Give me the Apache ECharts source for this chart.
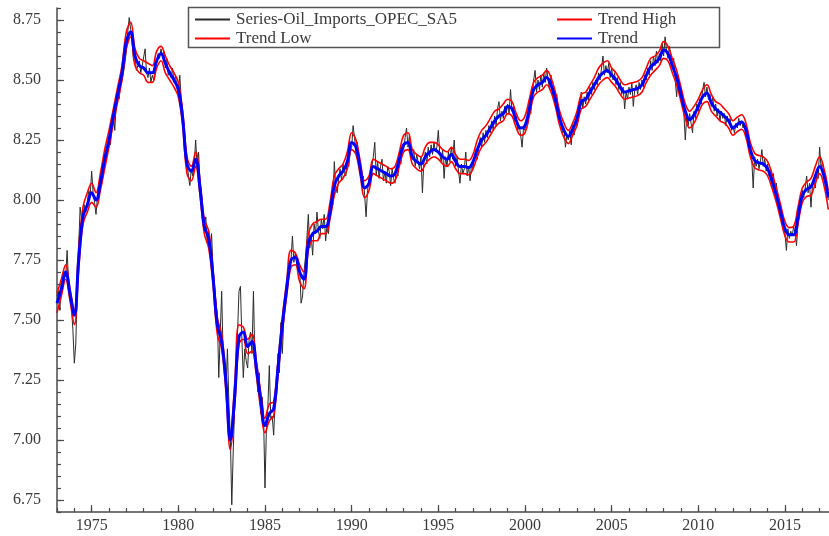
<!DOCTYPE html>
<html>
<head>
<meta charset="utf-8">
<script src="https://cdn.jsdelivr.net/npm/echarts@6/dist/echarts.min.js"></script>
<style>
  html, body { margin: 0; padding: 0; background: #ffffff; }
  #chart { width: 829px; height: 536px; }
</style>
</head>
<body>
<div id="chart"></div>
<script>
// Log OPEC oil imports (seasonally adjusted), monthly from January 1973,
// with the smoothed trend and its high/low band sampled quarterly.
const START_YEAR = 1973;

const seriesName = 'Series-Oil_Imports_OPEC_SA5';

// Monthly observations, one row per year (Jan..Dec)
const oilImports = [
  7.60, 7.62, 7.54, 7.66, 7.63, 7.70, 7.68, 7.79, 7.66, 7.62, 7.55, 7.46, // 1973
  7.32, 7.40, 7.62, 7.80, 7.97, 7.92, 7.93, 7.98, 7.95, 7.99, 8.04, 8.02, // 1974
  8.12, 8.03, 7.99, 7.94, 8.01, 8.05, 8.09, 8.07, 8.13, 8.19, 8.16, 8.22, // 1975
  8.26, 8.23, 8.31, 8.36, 8.29, 8.40, 8.46, 8.42, 8.48, 8.50, 8.53, 8.57, // 1976
  8.62, 8.70, 8.76, 8.71, 8.66, 8.58, 8.60, 8.54, 8.56, 8.58, 8.53, 8.56, // 1977
  8.56, 8.63, 8.53, 8.51, 8.55, 8.49, 8.52, 8.50, 8.56, 8.57, 8.61, 8.59, // 1978
  8.63, 8.60, 8.62, 8.55, 8.59, 8.52, 8.54, 8.51, 8.55, 8.49, 8.52, 8.47, // 1979
  8.44, 8.52, 8.42, 8.35, 8.30, 8.23, 8.16, 8.10, 8.06, 8.13, 8.10, 8.15, // 1980
  8.25, 8.14, 8.20, 8.08, 8.02, 7.96, 7.88, 7.93, 7.82, 7.87, 7.77, 7.86, // 1981
  7.72, 7.64, 7.58, 7.52, 7.26, 7.44, 7.62, 7.36, 7.33, 7.22, 7.38, 7.15, // 1982
  7.02, 6.73, 6.95, 7.14, 7.30, 7.45, 7.62, 7.64, 7.42, 7.26, 7.38, 7.33, // 1983
  7.30, 7.42, 7.45, 7.36, 7.62, 7.34, 7.29, 7.20, 7.28, 7.11, 7.18, 7.10, // 1984
  6.80, 7.05, 7.14, 7.31, 7.09, 7.10, 7.02, 7.16, 7.22, 7.36, 7.28, 7.49, // 1985
  7.36, 7.50, 7.56, 7.62, 7.66, 7.72, 7.75, 7.85, 7.74, 7.78, 7.73, 7.70, // 1986
  7.72, 7.57, 7.60, 7.70, 7.76, 7.84, 7.94, 7.80, 7.85, 7.77, 7.90, 7.86, // 1987
  7.95, 7.87, 7.84, 7.92, 7.88, 7.94, 7.83, 7.90, 7.86, 7.96, 8.02, 7.98, // 1988
  8.16, 8.05, 8.03, 8.09, 8.13, 8.08, 8.15, 8.11, 8.10, 8.17, 8.14, 8.20, // 1989
  8.22, 8.31, 8.26, 8.20, 8.24, 8.15, 8.12, 8.08, 8.10, 8.02, 7.93, 8.04, // 1990
  8.09, 8.06, 8.14, 8.18, 8.24, 8.10, 8.16, 8.09, 8.14, 8.17, 8.08, 8.12, // 1991
  8.07, 8.14, 8.12, 8.06, 8.13, 8.09, 8.07, 8.14, 8.10, 8.18, 8.15, 8.20, // 1992
  8.21, 8.26, 8.30, 8.22, 8.27, 8.20, 8.17, 8.21, 8.14, 8.19, 8.16, 8.13, // 1993
  8.18, 8.03, 8.16, 8.20, 8.15, 8.22, 8.18, 8.23, 8.19, 8.24, 8.20, 8.22, // 1994
  8.29, 8.19, 8.16, 8.21, 8.09, 8.18, 8.14, 8.20, 8.16, 8.22, 8.17, 8.25, // 1995
  8.14, 8.18, 8.12, 8.07, 8.15, 8.11, 8.13, 8.20, 8.10, 8.14, 8.08, 8.15, // 1996
  8.13, 8.18, 8.21, 8.17, 8.23, 8.26, 8.22, 8.28, 8.24, 8.29, 8.26, 8.31, // 1997
  8.28, 8.33, 8.29, 8.35, 8.31, 8.38, 8.41, 8.33, 8.37, 8.34, 8.39, 8.36, // 1998
  8.40, 8.36, 8.46, 8.37, 8.39, 8.33, 8.35, 8.29, 8.31, 8.27, 8.22, 8.30, // 1999
  8.29, 8.34, 8.32, 8.40, 8.36, 8.44, 8.50, 8.54, 8.45, 8.50, 8.46, 8.52, // 2000
  8.47, 8.53, 8.49, 8.55, 8.50, 8.46, 8.52, 8.44, 8.47, 8.40, 8.44, 8.37, // 2001
  8.35, 8.31, 8.28, 8.30, 8.22, 8.27, 8.25, 8.29, 8.23, 8.31, 8.27, 8.33, // 2002
  8.31, 8.37, 8.40, 8.45, 8.38, 8.43, 8.40, 8.45, 8.41, 8.47, 8.44, 8.49, // 2003
  8.46, 8.50, 8.48, 8.53, 8.50, 8.55, 8.60, 8.52, 8.56, 8.53, 8.57, 8.51, // 2004
  8.55, 8.50, 8.53, 8.48, 8.51, 8.46, 8.49, 8.44, 8.47, 8.38, 8.45, 8.42, // 2005
  8.47, 8.44, 8.49, 8.39, 8.46, 8.48, 8.44, 8.49, 8.46, 8.50, 8.47, 8.52, // 2006
  8.50, 8.55, 8.52, 8.58, 8.54, 8.60, 8.56, 8.62, 8.57, 8.61, 8.58, 8.65, // 2007
  8.60, 8.68, 8.62, 8.59, 8.64, 8.60, 8.56, 8.59, 8.50, 8.43, 8.52, 8.47, // 2008
  8.42, 8.45, 8.36, 8.25, 8.35, 8.31, 8.36, 8.32, 8.28, 8.37, 8.34, 8.40, // 2009
  8.37, 8.42, 8.40, 8.46, 8.49, 8.43, 8.47, 8.42, 8.44, 8.39, 8.43, 8.37, // 2010
  8.40, 8.35, 8.38, 8.33, 8.37, 8.34, 8.36, 8.31, 8.35, 8.32, 8.34, 8.29, // 2011
  8.31, 8.28, 8.32, 8.30, 8.34, 8.31, 8.33, 8.30, 8.32, 8.27, 8.29, 8.24, // 2012
  8.22, 8.17, 8.05, 8.18, 8.14, 8.17, 8.13, 8.16, 8.21, 8.14, 8.17, 8.12, // 2013
  8.15, 8.10, 8.13, 8.08, 8.11, 8.04, 8.07, 8.00, 7.98, 7.95, 7.92, 7.90, // 2014
  7.86, 7.79, 7.88, 7.84, 7.87, 7.85, 7.89, 7.86, 7.81, 7.90, 7.94, 7.98, // 2015
  8.04, 8.01, 8.05, 8.10, 8.03, 8.07, 7.97, 8.06, 8.08, 8.05, 8.11, 8.09, // 2016
  8.22, 8.13, 8.16, 8.09, 8.11, 8.04, 8.00                                // 2017
];

// Quarterly trend, one row per year
const trend = [
  7.57, 7.63, 7.70, 7.61,   7.52, 7.75, 7.93, 7.98,   8.03, 8.00, 8.07, 8.17, // 1973-75
  8.25, 8.35, 8.44, 8.53,   8.66, 8.70, 8.60, 8.56,   8.55, 8.53, 8.53, 8.58, // 1976-78
  8.61, 8.57, 8.53, 8.50,   8.46, 8.34, 8.15, 8.12,   8.17, 8.05, 7.89, 7.84, // 1979-81
  7.68, 7.48, 7.41, 7.24,   7.00, 7.18, 7.43, 7.45,   7.39, 7.41, 7.30, 7.17, // 1982-84
  7.06, 7.11, 7.13, 7.30,   7.48, 7.63, 7.75, 7.76,   7.70, 7.67, 7.82, 7.86, // 1985-87
  7.87, 7.89, 7.89, 7.95,   8.06, 8.10, 8.12, 8.16,   8.24, 8.22, 8.13, 8.05, // 1988-90
  8.07, 8.14, 8.13, 8.12,   8.11, 8.10, 8.11, 8.17,   8.23, 8.24, 8.18, 8.16, // 1991-93
  8.15, 8.18, 8.20, 8.21,   8.20, 8.18, 8.17, 8.19,   8.16, 8.14, 8.14, 8.135, // 1994-96
  8.16, 8.21, 8.25, 8.27,   8.30, 8.33, 8.35, 8.36,   8.39, 8.38, 8.33, 8.30, // 1997-99
  8.31, 8.38, 8.46, 8.48,   8.49, 8.51, 8.48, 8.42,   8.34, 8.29, 8.265, 8.295, // 2000-02
  8.34, 8.41, 8.42, 8.45,   8.48, 8.51, 8.53, 8.54,   8.52, 8.50, 8.47, 8.45, // 2003-05
  8.455, 8.46, 8.465, 8.48, 8.52, 8.555, 8.57, 8.59,  8.625, 8.61, 8.56, 8.51, // 2006-08
  8.44, 8.37, 8.335, 8.355, 8.39, 8.43, 8.445, 8.405, 8.38, 8.365, 8.35, 8.33, // 2009-11
  8.30, 8.315, 8.325, 8.29, 8.21, 8.165, 8.155, 8.15, 8.13, 8.08, 8.02, 7.95, // 2012-14
  7.88, 7.855, 7.855, 7.93, 8.02, 8.045, 8.055, 8.10, 8.14, 8.10, 8.01        // 2015-17
];

const trendHigh = [
  7.61, 7.67, 7.73, 7.63,   7.54, 7.80, 7.97, 8.03,   8.07, 8.03, 8.11, 8.21,
  8.29, 8.38, 8.47, 8.56,   8.70, 8.74, 8.63, 8.59,   8.58, 8.57, 8.56, 8.62,
  8.64, 8.60, 8.56, 8.53,   8.49, 8.37, 8.18, 8.14,   8.20, 8.08, 7.92, 7.87,
  7.71, 7.51, 7.44, 7.26,   7.02, 7.23, 7.48, 7.47,   7.42, 7.44, 7.33, 7.20,
  7.09, 7.15, 7.16, 7.33,   7.51, 7.66, 7.79, 7.78,   7.73, 7.70, 7.86, 7.90,
  7.91, 7.92, 7.92, 7.99,   8.10, 8.13, 8.15, 8.20,   8.28, 8.25, 8.16, 8.08,
  8.10, 8.17, 8.16, 8.15,   8.14, 8.13, 8.14, 8.20,   8.27, 8.28, 8.21, 8.19,
  8.18, 8.22, 8.24, 8.24,   8.23, 8.21, 8.20, 8.22,   8.19, 8.17, 8.17, 8.165,
  8.19, 8.25, 8.29, 8.31,   8.34, 8.37, 8.38, 8.40,   8.42, 8.41, 8.36, 8.33,
  8.35, 8.42, 8.49, 8.51,   8.52, 8.54, 8.51, 8.45,   8.37, 8.32, 8.29, 8.32,
  8.37, 8.44, 8.45, 8.48,   8.51, 8.55, 8.57, 8.58,   8.55, 8.53, 8.50, 8.48,
  8.485, 8.49, 8.495, 8.51, 8.55, 8.59, 8.60, 8.62,   8.66, 8.64, 8.59, 8.54,
  8.47, 8.40, 8.37, 8.39,   8.42, 8.46, 8.48, 8.44,   8.41, 8.40, 8.38, 8.36,
  8.33, 8.345, 8.355, 8.32, 8.24, 8.195, 8.185, 8.18, 8.16, 8.11, 8.05, 7.98,
  7.91, 7.885, 7.89, 7.97,  8.05, 8.075, 8.09, 8.14,  8.18, 8.13, 8.04
];

const trendLow = [
  7.53, 7.60, 7.67, 7.58,   7.48, 7.71, 7.90, 7.95,   7.99, 7.97, 8.04, 8.13,
  8.22, 8.32, 8.41, 8.50,   8.63, 8.68, 8.56, 8.53,   8.52, 8.49, 8.49, 8.55,
  8.58, 8.53, 8.50, 8.47,   8.43, 8.31, 8.11, 8.08,   8.14, 8.02, 7.86, 7.80,
  7.65, 7.44, 7.38, 7.20,   6.96, 7.14, 7.40, 7.42,   7.36, 7.37, 7.27, 7.13,
  7.03, 7.08, 7.10, 7.27,   7.45, 7.60, 7.72, 7.73,   7.66, 7.63, 7.79, 7.83,
  7.83, 7.86, 7.86, 7.92,   8.02, 8.07, 8.09, 8.13,   8.21, 8.19, 8.10, 8.01,
  8.04, 8.11, 8.10, 8.09,   8.08, 8.07, 8.08, 8.14,   8.20, 8.21, 8.15, 8.13,
  8.12, 8.15, 8.17, 8.18,   8.17, 8.15, 8.14, 8.16,   8.13, 8.11, 8.11, 8.105,
  8.13, 8.18, 8.22, 8.24,   8.27, 8.30, 8.32, 8.33,   8.36, 8.35, 8.30, 8.27,
  8.28, 8.35, 8.43, 8.45,   8.46, 8.48, 8.45, 8.39,   8.31, 8.26, 8.235, 8.27,
  8.31, 8.38, 8.39, 8.42,   8.45, 8.48, 8.50, 8.51,   8.49, 8.47, 8.44, 8.42,
  8.425, 8.43, 8.435, 8.45, 8.49, 8.52, 8.54, 8.56,   8.59, 8.58, 8.53, 8.48,
  8.41, 8.34, 8.30, 8.32,   8.36, 8.40, 8.41, 8.37,   8.35, 8.33, 8.32, 8.30,
  8.27, 8.285, 8.295, 8.26, 8.18, 8.135, 8.125, 8.12, 8.10, 8.05, 7.99, 7.92,
  7.85, 7.825, 7.825, 7.90, 7.99, 8.015, 8.02, 8.07,  8.11, 8.06, 7.96
];

// Axis ticks
const yTickValues = [6.75, 7.00, 7.25, 7.50, 7.75, 8.00, 8.25, 8.50, 8.75];
const xTickValues = [1975, 1980, 1985, 1990, 1995, 2000, 2005, 2010, 2015];

const X_MIN = 1973, X_MAX = 2017.54, Y_MIN = 6.70, Y_MAX = 8.80;

const monthlyPoints = oilImports.map((v, i) => [START_YEAR + i / 12, v]);
const quarterlyPoints = arr => arr.map((v, i) => [START_YEAR + i / 4, v]);

const yMinor = [];
for (let k = Math.round(Y_MIN * 20); k <= Math.round(Y_MAX * 20); k++) yMinor.push(k / 20);
const xMinor = [];
for (let y = X_MIN; y <= 2017; y++) xMinor.push(y);

const FONT = 'Liberation Serif';
const AXIS_COLOR = '#4a4a4a';
const TEXT_COLOR = '#3a3a3a';

const chart = echarts.init(document.getElementById('chart'), null, { renderer: 'canvas' });

const baseAxisLine = { show: true, lineStyle: { color: AXIS_COLOR, width: 1.5 } };

// Legend entries drawn as flat line swatches
const legendItem = name => ({ name: name, icon: 'rect' });
const legendCommon = {
  orient: 'vertical', top: 11, padding: 0,
  itemWidth: 35, itemHeight: 2, itemGap: 2,
  textStyle: { fontFamily: FONT, fontSize: 17, color: TEXT_COLOR, lineHeight: 14, padding: [0, 0, 0, 1] }
};

chart.setOption({
  animation: false,
  backgroundColor: '#ffffff',
  grid: { left: 57, right: 0, top: 8, bottom: 24, containLabel: false },
  xAxis: [
    {
      type: 'value', min: X_MIN, max: X_MAX,
      axisLine: baseAxisLine,
      axisTick: { show: true, inside: true, length: 7, customValues: xTickValues,
                  lineStyle: { color: AXIS_COLOR, width: 1.2 } },
      axisLabel: { customValues: xTickValues, margin: 6, color: TEXT_COLOR,
                   fontFamily: FONT, fontSize: 16, formatter: v => String(Math.round(v)) },
      splitLine: { show: false }
    },
    {
      type: 'value', min: X_MIN, max: X_MAX, position: 'bottom',
      axisLine: { show: false },
      axisTick: { show: true, inside: true, length: 4, customValues: xMinor,
                  lineStyle: { color: AXIS_COLOR, width: 1.2 } },
      axisLabel: { show: false },
      splitLine: { show: false }
    }
  ],
  yAxis: [
    {
      type: 'value', min: Y_MIN, max: Y_MAX,
      axisLine: baseAxisLine,
      axisTick: { show: true, inside: true, length: 7, customValues: yTickValues,
                  lineStyle: { color: AXIS_COLOR, width: 1.2 } },
      axisLabel: { customValues: yTickValues, margin: 16, color: TEXT_COLOR,
                   fontFamily: FONT, fontSize: 16, formatter: v => v.toFixed(2) },
      splitLine: { show: false }
    },
    {
      type: 'value', min: Y_MIN, max: Y_MAX, position: 'left',
      axisLine: { show: false },
      axisTick: { show: true, inside: true, length: 4, customValues: yMinor,
                  lineStyle: { color: AXIS_COLOR, width: 1.2 } },
      axisLabel: { show: false },
      splitLine: { show: false }
    }
  ],
  legend: [
    Object.assign({ data: [legendItem(seriesName), legendItem('Trend Low')], left: 195 }, legendCommon),
    Object.assign({ data: [legendItem('Trend High'), legendItem('Trend')], left: 557 }, legendCommon)
  ],
  graphic: [
    {
      type: 'rect', z: 1, silent: true,
      shape: { x: 188.5, y: 7.5, width: 531, height: 40 },
      style: { fill: 'none', stroke: '#555555', lineWidth: 1.5 }
    }
  ],
  series: [
    {
      name: seriesName, type: 'line', data: monthlyPoints,
      symbol: 'none', z: 2,
      lineStyle: { color: '#2b2b2b', width: 1 }, itemStyle: { color: '#2b2b2b' }
    },
    {
      name: 'Trend High', type: 'line', data: quarterlyPoints(trendHigh),
      symbol: 'none', smooth: 0.4, z: 3,
      lineStyle: { color: '#ff0000', width: 1.6 }, itemStyle: { color: '#ff0000' }
    },
    {
      name: 'Trend Low', type: 'line', data: quarterlyPoints(trendLow),
      symbol: 'none', smooth: 0.4, z: 3,
      lineStyle: { color: '#ff0000', width: 1.6 }, itemStyle: { color: '#ff0000' }
    },
    {
      name: 'Trend', type: 'line', data: quarterlyPoints(trend),
      symbol: 'none', smooth: 0.4, z: 4,
      lineStyle: { color: '#0000ff', width: 3 }, itemStyle: { color: '#0000ff' }
    }
  ]
});
</script>
</body>
</html>
